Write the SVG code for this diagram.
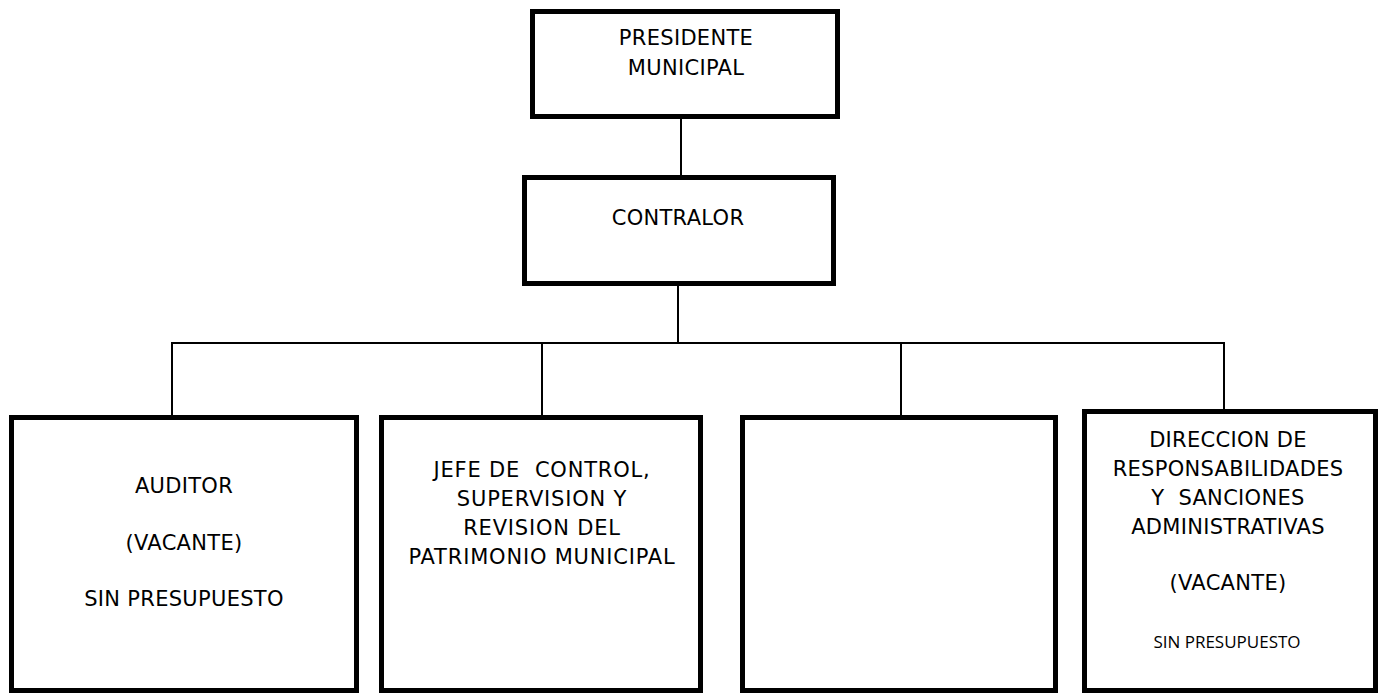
<svg xmlns="http://www.w3.org/2000/svg" width="1379" height="694" viewBox="0 0 1379 694">
<style>
.box{fill:#fff;stroke:#000;stroke-width:5}
.t{font-family:"DejaVu Sans",Verdana,sans-serif;font-size:21px;letter-spacing:0.3px;fill:#000;text-anchor:middle;white-space:pre}
.w{letter-spacing:0.8px}
.s{font-family:"Open Sans","Liberation Sans",sans-serif;font-size:17px;fill:#000;text-anchor:middle}
.c{fill:none;stroke:#000;stroke-width:2}
</style>
<rect width="1379" height="694" fill="#fff"/>
<g id="connectors">
<line class="c" x1="681" y1="117" x2="681" y2="178"/>
<line class="c" x1="678" y1="283" x2="678" y2="343"/>
<line class="c" x1="172" y1="343" x2="1225" y2="343"/>
<line class="c" x1="172" y1="342" x2="172" y2="416"/>
<line class="c" x1="542" y1="343" x2="542" y2="416"/>
<line class="c" x1="901" y1="343" x2="901" y2="416"/>
<line class="c" x1="1224" y1="342" x2="1224" y2="410"/>
</g>
<g id="presidente">
<rect class="box" x="532.5" y="11.5" width="305" height="105"/>
<text class="t" x="686" y="45">PRESIDENTE</text>
<text class="t" x="686" y="75">MUNICIPAL</text>
</g>
<g id="contralor">
<rect class="box" x="524.5" y="177.5" width="309" height="106"/>
<text class="t" x="678" y="225">CONTRALOR</text>
</g>
<g id="auditor">
<rect class="box" x="11.5" y="417.5" width="345" height="273"/>
<text class="t" x="184" y="493">AUDITOR</text>
<text class="t" x="184" y="550">(VACANTE)</text>
<text class="t" x="184" y="606">SIN PRESUPUESTO</text>
</g>
<g id="jefe">
<rect class="box" x="381.5" y="417.5" width="319" height="273"/>
<text class="t w" x="542" y="477">JEFE DE  CONTROL,</text>
<text class="t w" x="542" y="506">SUPERVISION Y</text>
<text class="t w" x="542" y="535">REVISION DEL</text>
<text class="t w" x="542" y="564">PATRIMONIO MUNICIPAL</text>
</g>
<g id="vacio">
<rect class="box" x="742.5" y="417.5" width="313" height="273"/>
</g>
<g id="direccion">
<rect class="box" x="1084.5" y="411.5" width="291" height="279"/>
<text class="t" x="1228" y="447">DIRECCION DE</text>
<text class="t" x="1228" y="476">RESPONSABILIDADES</text>
<text class="t" x="1228" y="505">Y  SANCIONES</text>
<text class="t" x="1228" y="534">ADMINISTRATIVAS</text>
<text class="t" x="1228" y="590">(VACANTE)</text>
<text class="s" x="1227" y="648">SIN PRESUPUESTO</text>
</g>
</svg>
